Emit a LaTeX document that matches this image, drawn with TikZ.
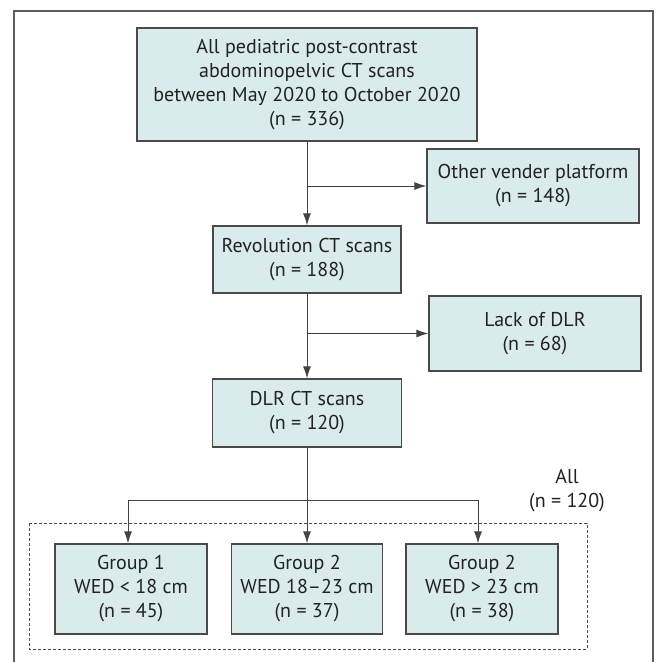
\documentclass[tikz,border=0pt]{standalone}
\usepackage{fontspec}
\setmainfont{PT Sans}
\usetikzlibrary{arrows.meta}
\definecolor{boxfill}{HTML}{DAEBED}
\definecolor{boxline}{HTML}{4A4A4A}
\definecolor{inkc}{HTML}{222222}
\tikzset{
  box/.style={draw=boxline, line width=1.2pt, fill=boxfill, align=center, inner sep=0pt,
    text=inkc, font=\fontsize{20}{24}\selectfont},
  conn/.style={draw=inkc!85, line width=1pt},
  arr/.style={conn, -{Latex[length=12pt,width=8pt]}},
  lbl/.style={align=center, text=inkc, font=\fontsize{20}{24}\selectfont},
}
\begin{document}
\begin{tikzpicture}[x=1pt,y=-1pt]
\useasboundingbox (0,0) rectangle (659,662);
% outer frame
\draw[draw=boxline!90, line width=1.5pt] (14,662) -- (14,11) -- (653,11) -- (653,662);
% dashed group frame
\draw[draw=inkc!80, line width=0.8pt, dash pattern=on 3pt off 2pt] (29,523) rectangle (587,649);

\node[box, minimum width=340pt, minimum height=113pt] (top) at (307,84.5)
  {All pediatric post-contrast\\abdominopelvic CT scans\\between May 2020 to October 2020\\(n = 336)};
\node[box, minimum width=212pt, minimum height=74pt] (other) at (533,186)
  {Other vender platform\\(n = 148)};
\node[box, minimum width=188pt, minimum height=67pt] (rev) at (307,259.5)
  {Revolution CT scans\\(n = 188)};
\node[box, minimum width=212pt, minimum height=75pt] (lack) at (535,333.5)
  {Lack of DLR\\(n = 68)};
\node[box, minimum width=189pt, minimum height=68pt] (dlr) at (307,413)
  {DLR CT scans\\(n = 120)};
\node[box, minimum width=152pt, minimum height=90pt] (g1) at (131,589)
  {Group 1\\WED < 18 cm\\(n = 45)};
\node[box, minimum width=151pt, minimum height=90pt] (g2) at (307,589)
  {Group 2\\WED 18–23 cm\\(n = 37)};
\node[box, minimum width=152pt, minimum height=90pt] (g3) at (482,589)
  {Group 2\\WED > 23 cm\\(n = 38)};
\node[lbl] (all) at (567,491) {All\\(n = 120)};

\coordinate (b1) at (307,186);
\coordinate (b2) at (307,333.5);
\coordinate (j) at (307,500);

\draw[arr] (top.south) -- (rev.north);
\draw[arr] (b1) -- (other.west);
\draw[arr] (rev.south) -- (dlr.north);
\draw[arr] (b2) -- (lack.west);
\draw[arr] (dlr.south) -- (g2.north);
\draw[arr] (j) -| ([xshift=-3pt]g1.north);
\draw[arr] (j) -| ([xshift=-4pt]g3.north);
\end{tikzpicture}
\end{document}
